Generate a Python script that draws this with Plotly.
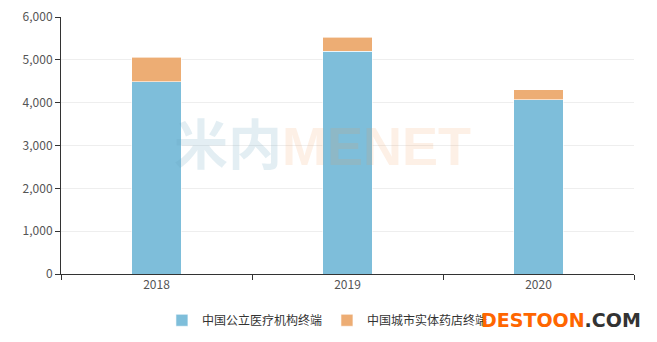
import plotly.graph_objects as go

years = ["2018", "2019", "2020"]
public_hospital = [4493, 5196, 4071]
city_pharmacy = [569, 335, 234]
series_names = ["中国公立医疗机构终端", "中国城市实体药店终端"]
y_ticks = [0, 1000, 2000, 3000, 4000, 5000, 6000]

fig = go.Figure()
fig.add_trace(go.Bar(x=years, y=public_hospital, name=series_names[0],
                     marker=dict(color="#7EBEDA", line=dict(color="rgba(255,255,255,0.6)", width=1)),
                     width=0.26))
fig.add_trace(go.Bar(x=years, y=city_pharmacy, name=series_names[1],
                     marker=dict(color="#EDAD74", line=dict(color="rgba(255,255,255,0.6)", width=1)),
                     width=0.26))

fig.update_layout(
    barmode="stack",
    width=657, height=342,
    margin=dict(l=61, r=23, t=17, b=68, autoexpand=False),
    paper_bgcolor="white", plot_bgcolor="white",
    font=dict(family="Noto Sans CJK SC, sans-serif", size=12, color="#333"),
    showlegend=True,
    legend=dict(orientation="h", x=0.465, xanchor="center", y=-0.18, yanchor="middle",
                font=dict(size=12, color="#333"), itemwidth=30, traceorder="normal"),
)
fig.update_xaxes(type="category", showline=True, linecolor="#333", linewidth=1,
                 ticks="outside", tickson="boundaries", ticklen=5, tickcolor="#333",
                 tickfont=dict(color="#555", size=12), showgrid=False, automargin=False)
fig.update_yaxes(range=[0, 6000], tickvals=y_ticks, tickformat=",", showline=True,
                 linecolor="#333", linewidth=1, ticks="outside", ticklen=5, tickcolor="#333",
                 tickfont=dict(color="#555", size=12), showgrid=True, gridcolor="#EEEEEE",
                 zeroline=False, automargin=False)

# watermarks
fig.add_annotation(xref="paper", yref="paper", x=0.456, y=0.498, xanchor="center", yanchor="middle",
                   showarrow=False,
                   text="<span style='color:rgba(100,160,190,0.18)'>米内</span>"
                        "<span style='color:rgba(240,150,80,0.14)'>MENET</span>",
                   font=dict(family="Liberation Sans, Noto Sans CJK SC", size=54, weight="bold"))
fig.add_annotation(xref="paper", yref="paper", x=1.015, y=-0.179, xanchor="right", yanchor="middle",
                   showarrow=False,
                   text="<span style='color:#FF6600'>DESTOON</span><span style='color:#333'>.COM</span>",
                   font=dict(family="DejaVu Sans, sans-serif", size=19, weight="bold"))

fig.write_html("out.html")
